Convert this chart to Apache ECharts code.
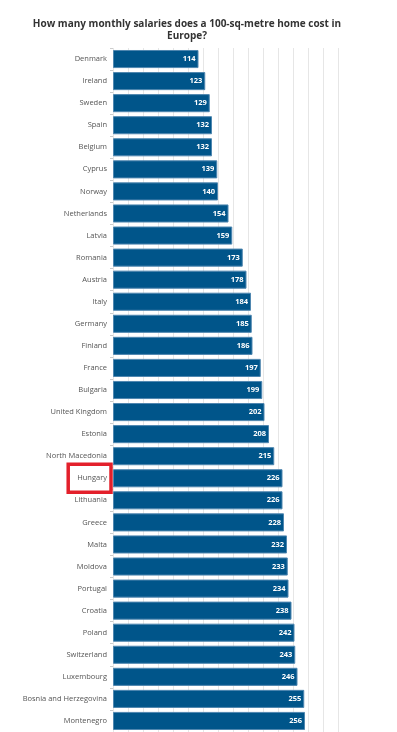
<!DOCTYPE html>
<html>
<head>
<meta charset="utf-8">
<script src="https://cdn.jsdelivr.net/npm/echarts@6/dist/echarts.min.js"></script>
<style>
  html, body { margin: 0; padding: 0; background: #fff; }
  #chart { width: 397px; height: 732px; }
</style>
</head>
<body>
<div id="chart"></div>
<script>
// countries, top to bottom
var countries = ['Denmark', 'Ireland', 'Sweden', 'Spain', 'Belgium', 'Cyprus', 'Norway',
  'Netherlands', 'Latvia', 'Romania', 'Austria', 'Italy', 'Germany', 'Finland', 'France',
  'Bulgaria', 'United Kingdom', 'Estonia', 'North Macedonia', 'Hungary', 'Lithuania',
  'Greece', 'Malta', 'Moldova', 'Portugal', 'Croatia', 'Poland', 'Switzerland',
  'Luxembourg', 'Bosnia and Herzegovina', 'Montenegro'];

// monthly salaries needed for 100 sq m
var salaries = [114, 123, 129, 132, 132, 139, 140, 154, 159, 173, 178, 184, 185, 186, 197,
  199, 202, 208, 215, 226, 226, 228, 232, 233, 234, 238, 242, 243, 246, 255, 256];

var highlighted = 'Hungary';

var chart = echarts.init(document.getElementById('chart'));

var option = {
  animation: false,
  textStyle: { fontFamily: 'Open Sans' },
  title: {
    text: 'How many monthly salaries does a 100-sq-metre home cost in\nEurope?',
    left: 187,
    top: 18,
    textAlign: 'center',
    padding: 0,
    textStyle: {
      fontFamily: 'Open Sans',
      fontSize: 10,
      fontWeight: 'bold',
      color: '#333',
      lineHeight: 12
    }
  },
  grid: { left: 113, right: 59, top: 48, bottom: 0 },
  xAxis: {
    type: 'value',
    min: 0,
    max: 300,
    interval: 20,
    axisLabel: { show: false },
    axisLine: { show: false },
    axisTick: { show: false },
    splitLine: { lineStyle: { color: '#e6e6e6', width: 1 } }
  },
  yAxis: {
    type: 'category',
    data: countries,
    inverse: true,
    axisLine: { show: false },
    axisTick: { show: true, length: 3, lineStyle: { color: '#ccc' } },
    axisLabel: {
      margin: 2,
      formatter: function (v) {
        return v === highlighted ? '{h|' + v + '}' : '{n|' + v + '}';
      },
      rich: {
        n: { fontFamily: 'Open Sans', fontSize: 7.5, color: '#555', padding: [0, 4, 0, 0] },
        h: {
          fontFamily: 'Open Sans', fontSize: 7.5, color: '#555',
          padding: [10, 4, 10, 9],
          borderColor: '#e3202b',
          borderWidth: 3.5
        }
      }
    }
  },
  series: [{
    type: 'bar',
    data: salaries,
    barCategoryGap: '18%',
    itemStyle: {
      color: '#00558a',
      borderColor: '#4f87b0',
      borderWidth: 1
    },
    label: {
      show: true,
      position: 'insideRight',
      distance: 3,
      color: '#fff',
      fontFamily: 'Open Sans',
      fontSize: 7.5,
      fontWeight: 'bold'
    }
  }]
};

chart.setOption(option);
</script>
</body>
</html>
